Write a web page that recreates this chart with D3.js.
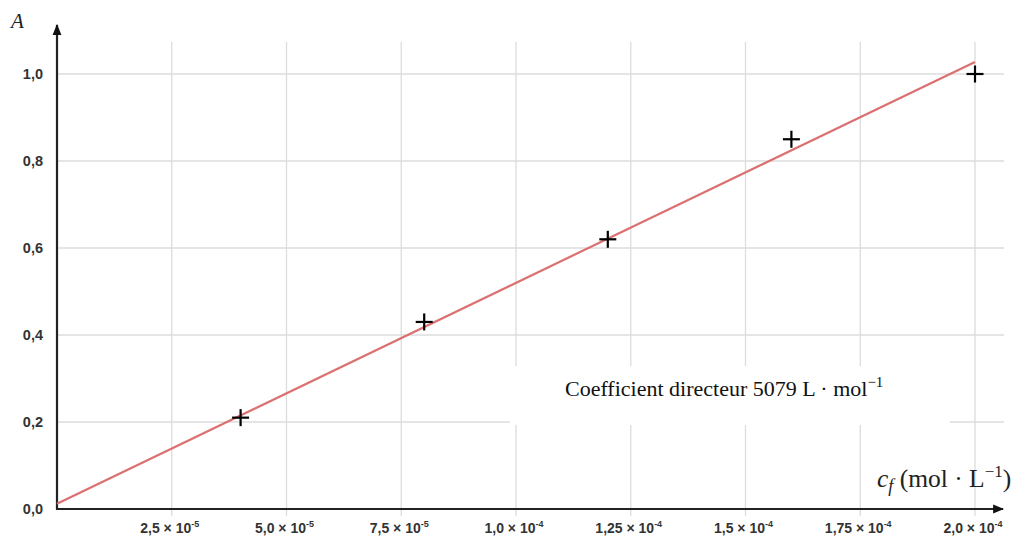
<!DOCTYPE html>
<html>
<head>
<meta charset="utf-8">
<script src="https://cdn.jsdelivr.net/npm/d3@7"></script>
<style>
  body { margin: 0; background: #fff; }
  svg { display: block; }
</style>
</head>
<body>
<div class="chart"></div>
<script>
'use strict';

// Measured points (c_f in mol/L, absorbance A)
var concentrations = [4e-5, 8e-5, 1.2e-4, 1.6e-4, 2.0e-4];
var absorbances = [0.21, 0.43, 0.62, 0.85, 1.0];

// Axis ticks
var xTicks = [2.5e-5, 5e-5, 7.5e-5, 1e-4, 1.25e-4, 1.5e-4, 1.75e-4, 2e-4];
var xTickMant = ['2,5', '5,0', '7,5', '1,0', '1,25', '1,5', '1,75', '2,0'];
var xTickExp = ['-5', '-5', '-5', '-4', '-4', '-4', '-4', '-4'];
var yTicks = [0, 0.2, 0.4, 0.6, 0.8, 1.0];
var yTickLabels = ['0,0', '0,2', '0,4', '0,6', '0,8', '1,0'];

// Regression line
var slope = 5079;
var intercept = 0.012;
var fitRange = [0, 2e-4];

var width = 1024, height = 557;

var svg = d3.select('.chart').append('svg')
  .attr('width', width)
  .attr('height', height);

var x = d3.scaleLinear().domain([0, 2e-4]).range([57, 975]);
var y = d3.scaleLinear().domain([0, 1]).range([509, 74]);

// grid
svg.append('g').selectAll('line').data(xTicks).enter().append('line')
  .attr('x1', function(d) { return x(d); })
  .attr('x2', function(d) { return x(d); })
  .attr('y1', 42).attr('y2', 516)
  .attr('stroke', '#dcdcdc').attr('stroke-width', 1.3);

svg.append('g').selectAll('line').data(yTicks.slice(1)).enter().append('line')
  .attr('x1', x(0)).attr('x2', 1004)
  .attr('y1', function(d) { return y(d); })
  .attr('y2', function(d) { return y(d); })
  .attr('stroke', '#dcdcdc').attr('stroke-width', 1.3);

// white box behind the annotation
svg.append('rect')
  .attr('x', 510).attr('y', 366)
  .attr('width', 440).attr('height', 59)
  .attr('fill', '#fff');

// arrows
var defs = svg.append('defs');
defs.append('marker')
  .attr('id', 'arrow')
  .attr('viewBox', '0 0 10 10')
  .attr('refX', 9).attr('refY', 5)
  .attr('markerWidth', 5).attr('markerHeight', 5)
  .attr('markerUnits', 'strokeWidth')
  .attr('orient', 'auto')
  .append('path').attr('d', 'M0,1 L10,5 L0,9 Z').attr('fill', '#111');

svg.append('line')
  .attr('x1', x(0) - 1).attr('x2', 1003)
  .attr('y1', y(0)).attr('y2', y(0))
  .attr('stroke', '#222').attr('stroke-width', 2.2)
  .attr('marker-end', 'url(#arrow)');

svg.append('line')
  .attr('x1', x(0)).attr('x2', x(0))
  .attr('y1', y(0) + 1).attr('y2', 25)
  .attr('stroke', '#222').attr('stroke-width', 2.2)
  .attr('marker-end', 'url(#arrow)');

// tick labels
var xLab = svg.append('g').selectAll('text').data(xTicks).enter().append('text')
  .attr('x', function(d) { return x(d) - 2; })
  .attr('y', 533)
  .attr('text-anchor', 'middle')
  .attr('font-family', 'Liberation Sans, Arial, sans-serif')
  .attr('font-size', 14)
  .attr('font-weight', 'bold')
  .attr('fill', '#333');
xLab.append('tspan').text(function(d, i) { return xTickMant[i] + ' \u00d7 10'; });
xLab.append('tspan')
  .attr('dy', -6).attr('font-size', 9)
  .text(function(d, i) { return xTickExp[i]; });

svg.append('g').selectAll('text').data(yTicks).enter().append('text')
  .attr('x', 43)
  .attr('y', function(d) { return y(d) + 5; })
  .attr('text-anchor', 'end')
  .attr('font-family', 'Liberation Sans, Arial, sans-serif')
  .attr('font-size', 14.5)
  .attr('font-weight', 'bold')
  .attr('fill', '#333')
  .text(function(d, i) { return yTickLabels[i]; });

// fit line
svg.append('line')
  .attr('x1', x(fitRange[0])).attr('y1', y(intercept + slope * fitRange[0]))
  .attr('x2', x(fitRange[1])).attr('y2', y(intercept + slope * fitRange[1]))
  .attr('stroke', '#dc7070').attr('stroke-width', 2.2);

// crosses
var pts = svg.append('g').selectAll('g').data(concentrations).enter().append('g')
  .attr('transform', function(d, i) { return 'translate(' + x(d) + ',' + y(absorbances[i]) + ')'; });
pts.append('line').attr('x1', -8.5).attr('x2', 8.5).attr('stroke', '#000').attr('stroke-width', 2.2);
pts.append('line').attr('y1', -8.5).attr('y2', 8.5).attr('stroke', '#000').attr('stroke-width', 2.2);

// axis titles
svg.append('text')
  .attr('x', 11).attr('y', 28)
  .attr('font-family', 'Liberation Serif, Times New Roman, serif')
  .attr('font-style', 'italic')
  .attr('font-size', 21)
  .attr('fill', '#222')
  .text('A');

var xt = svg.append('text')
  .attr('x', 877).attr('y', 487)
  .attr('font-family', 'Liberation Serif, Times New Roman, serif')
  .attr('font-size', 25.5)
  .attr('fill', '#222');
xt.append('tspan').attr('font-style', 'italic').text('c');
xt.append('tspan').attr('font-style', 'italic').attr('font-size', 18).attr('dy', 5).text('f');
xt.append('tspan').attr('dy', -5).text(' (mol \u00b7 L');
xt.append('tspan').attr('dy', -10).attr('font-size', 17).text('\u22121');
xt.append('tspan').attr('dy', 10).text(')');

var ann = svg.append('text')
  .attr('x', 565).attr('y', 396)
  .attr('font-family', 'Liberation Serif, Times New Roman, serif')
  .attr('font-size', 22)
  .attr('fill', '#111');
ann.append('tspan').text('Coefficient directeur 5079 L \u00b7 mol');
ann.append('tspan').attr('dy', -9).attr('font-size', 15).text('\u22121');
</script>
</body>
</html>
